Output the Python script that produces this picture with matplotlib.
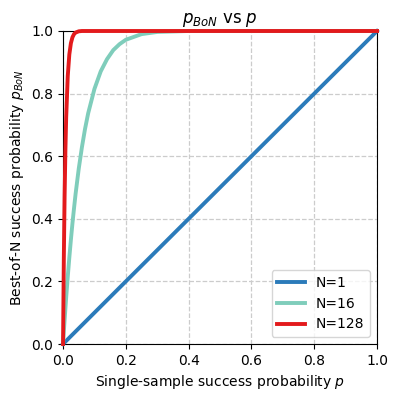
import matplotlib
matplotlib.use("Agg")
import matplotlib.pyplot as plt

# success probability grid and values
p = [0, 0.0025, 0.005, 0.0075, 0.01, 0.015, 0.02, 0.025, 0.03, 0.035, 0.04,
     0.05, 0.06, 0.07, 0.08, 0.1, 0.12, 0.14, 0.16, 0.18, 0.2, 0.25, 0.3,
     0.4, 0.5, 0.6, 0.7, 0.8, 0.9, 1.0]
n1 = [0, 0.0025, 0.005, 0.0075, 0.01, 0.015, 0.02, 0.025, 0.03, 0.035, 0.04,
      0.05, 0.06, 0.07, 0.08, 0.1, 0.12, 0.14, 0.16, 0.18, 0.2, 0.25, 0.3,
      0.4, 0.5, 0.6, 0.7, 0.8, 0.9, 1.0]
n16 = [0, 0.039, 0.077, 0.113, 0.149, 0.215, 0.276, 0.333, 0.386, 0.434, 0.480,
       0.560, 0.628, 0.687, 0.737, 0.815, 0.871, 0.910, 0.939, 0.958, 0.972,
       0.990, 0.997, 1, 1, 1, 1, 1, 1, 1]
n128 = [0, 0.274, 0.474, 0.618, 0.724, 0.856, 0.925, 0.961, 0.980, 0.990, 0.995,
        0.999, 1, 1, 1, 1, 1, 1, 1, 1, 1, 1, 1, 1, 1, 1, 1, 1, 1, 1]
labels = ["N=1", "N=16", "N=128"]
colors = ["#2b7bba", "#7fcdbb", "#e31a1c"]

fig = plt.figure(figsize=(3.99, 4.0), dpi=100)
ax = fig.add_axes([0.158, 0.14, 0.787, 0.7825])

for ys, lab, c in zip([n1, n16, n128], labels, colors):
    ax.plot(p, ys, color=c, lw=2.8, label=lab, clip_on=False, zorder=3)

ax.set_xlim(0, 1)
ax.set_ylim(0, 1)
ax.grid(True, linestyle="--", color="#cccccc", lw=0.9)
ax.set_axisbelow(True)
ax.set_title("$p_{BoN}$ vs $p$", fontsize=12)
ax.set_xlabel("Single-sample success probability $p$", fontsize=10)
ax.set_ylabel("Best-of-N success probability $p_{BoN}$", fontsize=10)
ax.legend(loc="lower right", fontsize=10)

fig.savefig("out.png", dpi=100)
